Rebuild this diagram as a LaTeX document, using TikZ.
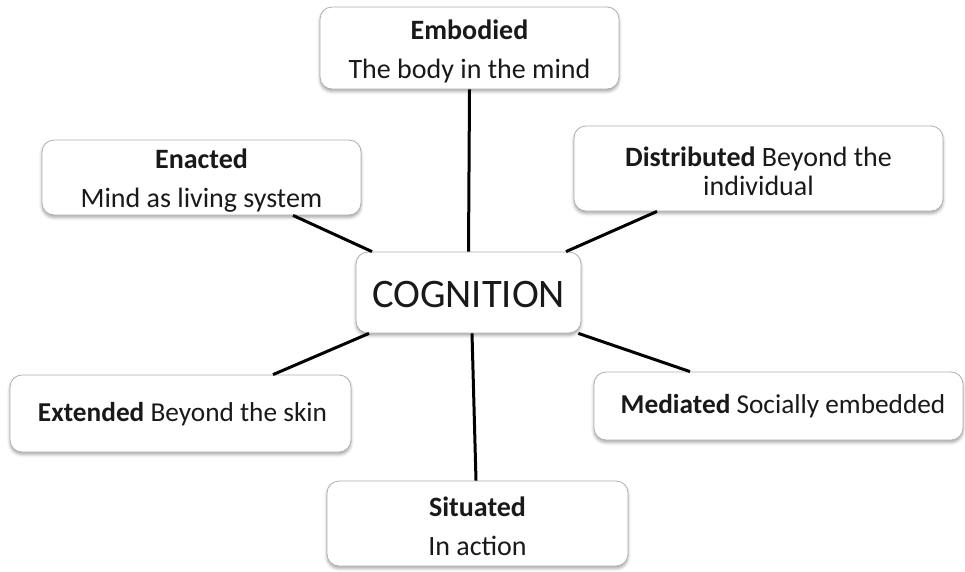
\documentclass[tikz,border=0pt]{standalone}
\usepackage{fontspec}
\setmainfont{Carlito}
\usetikzlibrary{shadows.blur}
\begin{document}
\begin{tikzpicture}[x=1pt,y=-1pt,
  box/.style={draw={rgb,255:red,175;green,175;blue,175}, line width=0.8pt, fill=white,
    rounded corners=12pt, inner sep=0pt,
    blur shadow={shadow xshift=0pt, shadow yshift=-2.5pt, shadow blur radius=3pt, shadow opacity=35}},
  txt/.style={inner sep=0pt, align=center, text={rgb,255:red,25;green,25;blue,25}, font=\fontsize{28}{39}\selectfont},
  link/.style={line width=3pt, black}]
\useasboundingbox (0,0) rectangle (965,571);
\node[box, minimum width=299pt, minimum height=82pt] (emb) at (469.5,48) {};
\node[box, minimum width=319pt, minimum height=75pt] (ena) at (201.5,177.5) {};
\node[box, minimum width=369pt, minimum height=85pt] (dis) at (758.5,168.5) {};
\node[box, minimum width=225pt, minimum height=81pt] (cog) at (468.5,292.5) {};
\node[box, minimum width=341pt, minimum height=77pt] (ext) at (180.5,413.5) {};
\node[box, minimum width=369pt, minimum height=68pt] (med) at (778.5,406) {};
\node[box, minimum width=301pt, minimum height=85pt] (sit) at (477.5,523.5) {};
\node[txt] (embt) at ([yshift=-3pt]emb.center) {\textbf{Embodied}\\The body in the mind};
\node[txt] (enat) at ([yshift=-3pt]ena.center) {\textbf{Enacted}\\Mind as living system};
\node[txt, font=\fontsize{28}{29}\selectfont] (dist) at ([yshift=-2.5pt]dis.center) {\textbf{Distributed} Beyond the\\individual};
\node[txt, font=\fontsize{40.5}{44}\selectfont] (cogt) at ([yshift=-2pt]cog.center) {COGNITION};
\node[txt, font=\fontsize{27.3}{39}\selectfont] (extt) at ([xshift=2pt,yshift=-1pt]ext.center) {\textbf{Extended} Beyond the skin};
\node[txt, font=\fontsize{27.3}{39}\selectfont] (medt) at ([xshift=4.5pt]med.center) {\textbf{Mediated} Socially embedded};
\node[txt] (sitt) at ([yshift=-3pt]sit.center) {\textbf{Situated}\\In action};
\draw[link] (emb.south) -- (cog.north);
\draw[link] ([xshift=91.5pt]ena.south) -- ([xshift=-96.5pt]cog.north);
\draw[link] ([xshift=-101.5pt]dis.south) -- ([xshift=97.5pt]cog.north);
\draw[link] ([xshift=92.5pt]ext.north) -- ([xshift=-99.5pt]cog.south);
\draw[link] ([xshift=-88.5pt]med.north) -- ([xshift=-3pt]cog.south east);
\draw[link] ([xshift=3.5pt]cog.south) -- ([xshift=-1.5pt]sit.north);
\end{tikzpicture}
\end{document}
